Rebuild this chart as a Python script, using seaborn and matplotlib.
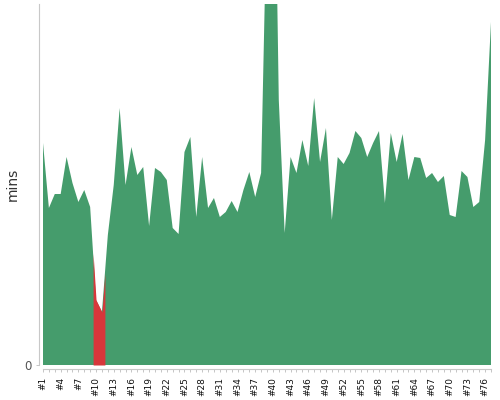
import numpy as np
import pandas as pd
import matplotlib
matplotlib.use("Agg")
import matplotlib.pyplot as plt
import seaborn as sns

# run numbers #1..#77 and duration per run (mins)
runs = list(range(1, 78))
mins = [222, 157, 171, 171, 208, 182, 163, 175, 158, 65,
        53, 130, 180, 257, 180, 218, 190, 198, 139, 197,
        193, 185, 137, 131, 213, 228, 148, 208, 157, 167,
        148, 153, 164, 153, 175, 193, 168, 192, 470, 650,
        265, 132, 208, 192, 225, 199, 267, 203, 237, 145,
        208, 201, 212, 234, 227, 208, 222, 234, 162, 232,
        203, 231, 185, 208, 207, 187, 192, 183, 189, 150,
        148, 194, 188, 158, 163, 225, 343]
# runs drawn in red (failed)
bad_runs = [10, 11]

green = "#459c6c"
red = "#d7373b"

df = pd.DataFrame({"run": runs, "mins": mins})

sns.set_theme(style="white")
fig = plt.figure(figsize=(5, 4), dpi=100)
ax = fig.add_axes([0.086, 0.0875, 0.896, 0.9025])

ax.fill_between(df["run"], df["mins"], 0, color=green, linewidth=0)

# red band: half a step either side of the bad runs
lo, hi = min(bad_runs) - 0.5, max(bad_runs) + 0.5
seg = df[(df["run"] > lo) & (df["run"] < hi)]
xs = np.concatenate([[lo], seg["run"], [hi]])
ys = np.concatenate([[np.interp(lo, df["run"], df["mins"])], seg["mins"],
                     [np.interp(hi, df["run"], df["mins"])]])
ax.fill_between(xs, ys, 0, color=red, linewidth=0)

ax.set_xlim(1, 77)
ax.set_ylim(0, 361)

ax.set_yticks([0], ["0"])
ax.set_xticks(runs[::3], [f"#{r}" for r in runs[::3]])
ax.set_xticks(runs, minor=True)
ax.tick_params(axis="both", which="both", length=2.5, width=0.6, color="#bbbbbb",
               bottom=True, left=True, pad=3)
ax.tick_params(axis="x", labelrotation=90, labelsize=6.5, labelcolor="#111111")
ax.tick_params(axis="y", labelsize=8.5, labelcolor="#555555")
ax.set_ylabel("mins", fontsize=10, color="#333333")
ax.yaxis.set_label_coords(-0.053, 0.5)
ax.set_xlabel("")

sns.despine(ax=ax, offset=3)
for side in ["left", "bottom"]:
    ax.spines[side].set_color("#c8c8c8")
    ax.spines[side].set_linewidth(0.8)

fig.savefig("out.png", dpi=100)
